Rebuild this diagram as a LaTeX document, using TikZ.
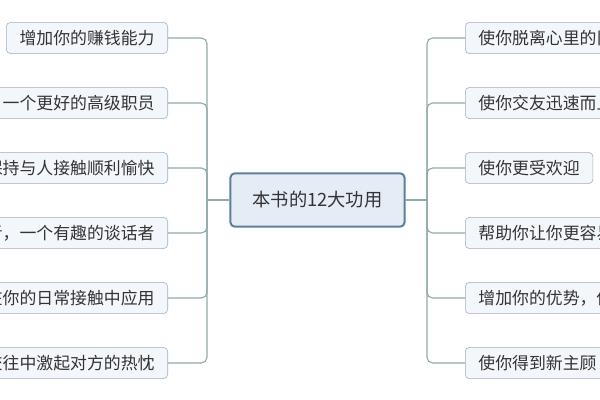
\documentclass[tikz,border=0pt]{standalone}
\usepackage{fontspec}
\setmainfont{Noto Sans CJK SC}
\definecolor{boxline}{HTML}{9AAEBE}
\definecolor{boxfill}{HTML}{F3F7FB}
\definecolor{mainline}{HTML}{5E7E98}
\definecolor{mainfill}{HTML}{E4EDF6}
\definecolor{wire}{HTML}{93AAAA}
\tikzset{
  topic/.style={draw=boxline,fill=boxfill,rounded corners=3pt,minimum height=0.78cm,inner xsep=0.33cm,font=\fontsize{12}{14}\selectfont,text=black!80},
  cutleft/.style={topic,anchor=east,text width=4.6cm,align=right},
  cutright/.style={topic,anchor=west,text width=4.6cm,align=left},
  hub/.style={draw=mainline,fill=mainfill,line width=1.4pt,rounded corners=3pt,minimum width=4.35cm,minimum height=1.33cm,font=\fontsize{13}{15}\selectfont,text=black!80},
  wire/.style={draw=wire,line width=0.8pt,rounded corners=4pt}
}
\begin{document}
\begin{tikzpicture}[x=0.025cm,y=-0.025cm]
\useasboundingbox (0,0) rectangle (600,400);
\clip (0,0) rectangle (600,400);
\fill[white] (0,0) rectangle (600,400);

\node[hub] (main) at (317.5,200) {本书的12大功用};

    \node[topic,anchor=east] (l1) at (168,38) {增加你的赚钱能力};
    \node[cutleft] (l2) at (168,103) {一个更好的高级职员};
    \node[cutleft] (l3) at (168,168) {保持与人接触顺利愉快};
    \node[cutleft] (l4) at (168,233) {者，一个有趣的谈话者};
    \node[cutleft] (l5) at (168,298) {在你的日常接触中应用};
    \node[cutleft] (l6) at (168,363) {交往中激起对方的热忱};

    \node[cutright] (r1) at (465,38) {使你脱离心里的旧};
    \node[cutright] (r2) at (465,103) {使你交友迅速而且};
    \node[topic,anchor=west] (r3) at (465,168) {使你更受欢迎};
    \node[cutright] (r4) at (465,233) {帮助你让你更容易};
    \node[cutright] (r5) at (465,298) {增加你的优势，你};
    \node[topic,anchor=west] (r6) at (465,363) {使你得到新主顾};

\coordinate (lspine) at (207,200);
\coordinate (rspine) at (427,200);
\draw[wire] (main.west) -- (lspine);
\draw[wire] (main.east) -- (rspine);
\foreach \i in {1,...,6} {
    \draw[wire] (lspine) |- (l\i.east);
    \draw[wire] (rspine) |- (r\i.west);
}
\end{tikzpicture}
\end{document}
